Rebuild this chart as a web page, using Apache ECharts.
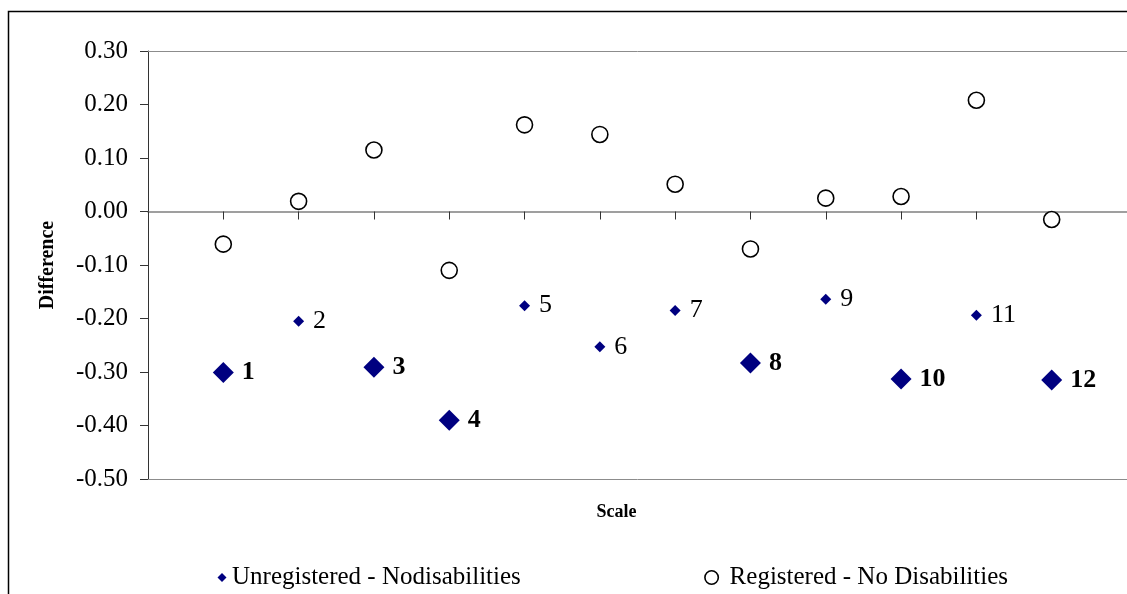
<!DOCTYPE html>
<html>
<head>
<meta charset="utf-8">
<script src="https://cdn.jsdelivr.net/npm/echarts@6/dist/echarts.min.js"></script>
<style>
html,body{margin:0;padding:0;background:#fff;}
#chart{width:1127px;height:594px;}
</style>
</head>
<body>
<div id="chart"></div>
<script>
const scales = [1,2,3,4,5,6,7,8,9,10,11,12];
const unregistered = [-0.301,-0.205,-0.291,-0.390,-0.176,-0.253,-0.185,-0.283,-0.164,-0.313,-0.194,-0.315];
const registered = [-0.061,0.019,0.115,-0.110,0.162,0.144,0.051,-0.070,0.025,0.028,0.208,-0.015];
const significantScales = [1,3,4,8,10,12];
const yTicks = {min:-0.5, max:0.3, step:0.1};
const seriesNames = ['Unregistered - Nodisabilities','Registered - No Disabilities'];

const FONT = "'Liberation Serif','Times New Roman',serif";
const chart = echarts.init(document.getElementById('chart'), null, {renderer:'canvas'});

const unregData = scales.map((s,i)=>{
  const big = significantScales.includes(s);
  return {
    value:[s, unregistered[i]],
    symbolSize: big ? 21 : 11,
    label:{show:true, position:'right', distance: big ? 8 : 9,
      formatter: String(s), fontFamily:FONT, fontSize:26,
      fontWeight: big ? 'bold' : 'normal', color:'#000', opacity:1}
  };
});
const regData = scales.map((s,i)=>[s, registered[i]]);

chart.setOption({
  animation:false,
  backgroundColor:'#fff',
  textStyle:{fontFamily:FONT},
  graphic:[{type:'rect', left:6, top:9, shape:{width:1135, height:600},
    style:{fill:'none', stroke:'#000', lineWidth:1.5}, z:-1}],
  grid:{left:148, top:51, right:-5, bottom:115, containLabel:false},
  legend:{
    left:200, top:560, itemGap:181, itemWidth:22, itemHeight:15,
    textStyle:{fontFamily:FONT, fontSize:25, color:'#000'},
    data:[
      {name:seriesNames[0], icon:'path://M0,0 M22,15 M17,3 L21.5,7.5 L17,12 L12.5,7.5 Z',
       itemStyle:{color:'#000080', borderWidth:0, opacity:1}},
      {name:seriesNames[1], icon:'path://M0,0 M22,15 M9,0.8 A6.7,6.7 0 1 1 8.99,0.8 Z',
       itemStyle:{color:'#fff', borderColor:'#000', borderWidth:1.6, opacity:1}}
    ]
  },
  xAxis:[
    {type:'value', min:0, max:13, interval:1,
      axisLine:{show:true, onZero:true, lineStyle:{color:'#808080', width:1.5}},
      axisTick:{show:true, inside:false, length:8, lineStyle:{color:'#333', width:1}},
      axisLabel:{show:false}, splitLine:{show:false}},
    {type:'value', position:'top', min:0, max:13, interval:1,
      axisLine:{show:true, onZero:false, lineStyle:{color:'#8c8c8c', width:1}},
      axisTick:{show:false}, axisLabel:{show:false}, splitLine:{show:false}},
    {type:'value', position:'bottom', min:0, max:13, interval:1,
      axisLine:{show:true, onZero:false, lineStyle:{color:'#8c8c8c', width:1}},
      axisTick:{show:false}, axisLabel:{show:false}, splitLine:{show:false},
      name:'Scale', nameLocation:'middle', nameGap:24,
      nameTextStyle:{fontFamily:FONT, fontSize:18, fontWeight:'bold', color:'#000', padding:[0,42,0,0]}}
  ],
  yAxis:{
    type:'value', min:yTicks.min, max:yTicks.max, interval:yTicks.step,
    axisLine:{show:true, onZero:false, lineStyle:{color:'#333', width:1}},
    axisTick:{show:true, inside:false, length:8, lineStyle:{color:'#333'}},
    axisLabel:{margin:20, fontFamily:FONT, fontSize:25, color:'#000', padding:[6,0,0,0],
      formatter:v=>v.toFixed(2)},
    splitLine:{show:false},
    name:'Difference', nameLocation:'middle', nameRotate:90, nameGap:90,
    nameTextStyle:{fontFamily:FONT, fontSize:20, fontWeight:'bold', color:'#000'}
  },
  series:[
    {name:seriesNames[0], type:'scatter', symbol:'diamond', xAxisIndex:0,
      itemStyle:{color:'#000080', opacity:1}, data:unregData, z:3},
    {name:seriesNames[1], type:'scatter', symbol:'circle', symbolSize:16, xAxisIndex:0,
      itemStyle:{color:'#fff', borderColor:'#000', borderWidth:1.6, opacity:1}, data:regData, z:3}
  ]
});
</script>
</body>
</html>
